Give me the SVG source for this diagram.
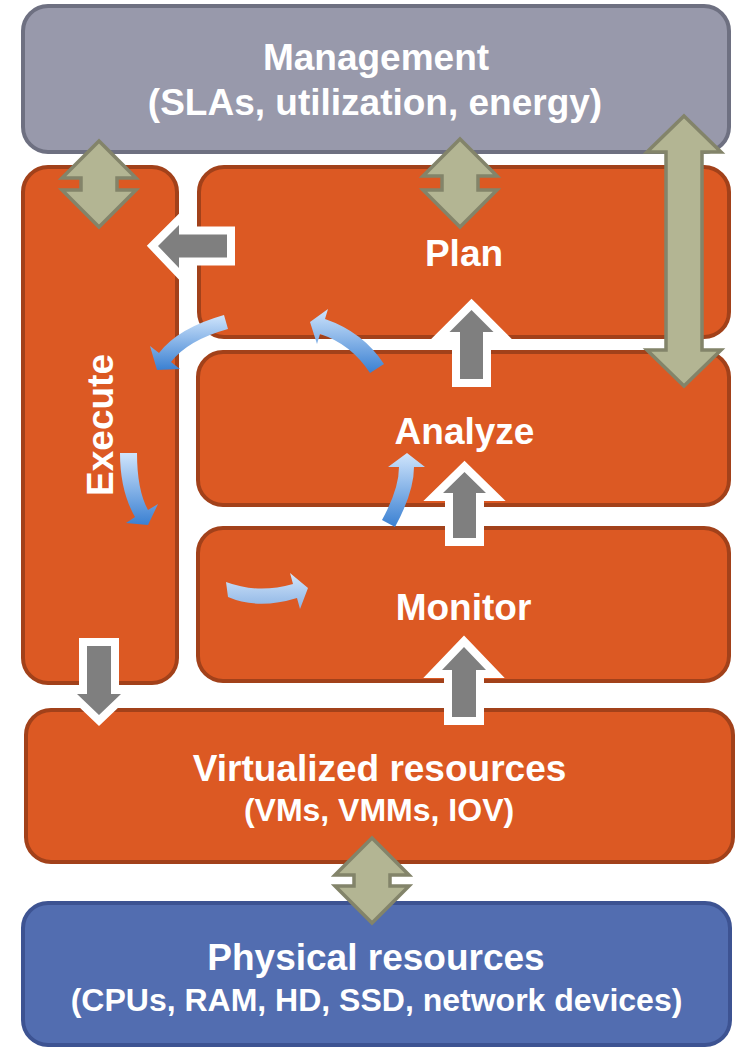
<svg xmlns="http://www.w3.org/2000/svg" width="736" height="1047" viewBox="0 0 736 1047">
  <style>
    .lbl { font-family: "Liberation Sans", Arial, sans-serif; font-weight: bold; fill: #ffffff; text-anchor: middle; }
    .big { font-size: 37px; }
    .sub { font-size: 32px; }
    .orange { fill: #dc5923; stroke: #a2411a; stroke-width: 4; }
    .mgmt { fill: #9899ab; stroke: #6e7081; stroke-width: 4; }
    .phys { fill: #526db0; stroke: #3d5392; stroke-width: 4; }
    .dbl { fill: #b3b593; stroke: #83846a; stroke-width: 3.5; stroke-linejoin: miter; }
    .blk { fill: #7f7f7f; stroke: #ffffff; stroke-width: 16; stroke-linejoin: miter; paint-order: stroke; }
  </style>
  <defs>
    <linearGradient id="blueV" x1="0" y1="0" x2="0" y2="1">
      <stop offset="0" stop-color="#d0e5fc"/>
      <stop offset="1" stop-color="#3a80d2"/>
    </linearGradient>
    <linearGradient id="blueSoft" x1="0" y1="0" x2="0" y2="1">
      <stop offset="0" stop-color="#d3e7fb"/>
      <stop offset="1" stop-color="#8cb3e4"/>
    </linearGradient>
  </defs>

  <rect width="736" height="1047" fill="#ffffff"/>

  <g id="nodes">
    <g id="management">
      <rect class="mgmt" x="23" y="6" width="706" height="146" rx="25"/>
      <text class="lbl big" x="376" y="70">Management</text>
      <text class="lbl big" x="375" y="115">(SLAs, utilization, energy)</text>
    </g>
    <g id="execute">
      <rect class="orange" x="23" y="167" width="154" height="516" rx="25"/>
      <text class="lbl big" transform="translate(113 425) rotate(-90)">Execute</text>
    </g>
    <g id="plan">
      <rect class="orange" x="199" y="167" width="530" height="170" rx="25"/>
      <text class="lbl big" x="464" y="266">Plan</text>
    </g>
    <g id="analyze">
      <rect class="orange" x="198" y="352" width="531" height="153" rx="25"/>
      <text class="lbl big" x="464.5" y="444">Analyze</text>
    </g>
    <g id="monitor">
      <rect class="orange" x="198" y="528" width="531" height="153" rx="25"/>
      <text class="lbl big" x="463.5" y="620">Monitor</text>
    </g>
    <g id="virtualized">
      <rect class="orange" x="26" y="710" width="707" height="152" rx="25"/>
      <text class="lbl big" x="379.5" y="781">Virtualized resources</text>
      <text class="lbl sub" x="379" y="821">(VMs, VMMs, IOV)</text>
    </g>
    <g id="physical">
      <rect class="phys" x="23" y="903" width="707" height="142" rx="25"/>
      <text class="lbl big" x="376" y="970">Physical resources</text>
      <text class="lbl sub" x="376.5" y="1011">(CPUs, RAM, HD, SSD, network devices)</text>
    </g>
  </g>

  <g id="connectors">
    <!-- two-way links to management and hardware -->
    <polygon class="dbl" points="99,141 136,178 117,178 117,190 136,190 99,227 62,190 81,190 81,178 62,178"/>
    <polygon class="dbl" points="460,139 497,176 478,176 478,190 497,190 460,227 423,190 442,190 442,176 423,176"/>
    <polygon class="dbl" points="684,116 721,152 702,152 702,350 721,350 684,386 647,350 666,350 666,152 647,152"/>
    <polygon class="dbl" points="372,838 409,875 390,875 390,886 409,886 372,923 335,886 354,886 354,875 335,875"/>

    <!-- flow between the loop stages -->
    <polygon class="blk" points="158,246 179,225 179,234.5 227,234.5 227,257.5 179,257.5 179,268"/>
    <polygon class="blk" points="471.5,310 493.5,332 483,332 483,379 460,379 460,332 449.5,332"/>
    <polygon class="blk" points="464.5,472 486,493 476,493 476,538 453,538 453,493 443,493"/>
    <polygon class="blk" points="464,647 486,670 476,670 476,717 452,717 452,670 442,670"/>
    <polygon class="blk" points="99,715 121,694 111,694 111,646 87,646 87,694 77,694"/>

    <!-- curved cycle arrows -->
    <path fill="url(#blueV)" d="M224,315 Q178,328 159,353 L150,346 L157,370 L180,369 L171,362 Q188,340 228,329 Z"/>
    <path fill="url(#blueV)" d="M384,364 Q363,332 325,319 L328,309 L310,322 L317,344 L320,334 Q351,344 370,373 Z"/>
    <path fill="url(#blueV)" d="M120,453 Q120,491 135,517 L126,523 L148,525 L158,504 L148,510 Q137,490 137,453 Z"/>
    <path fill="url(#blueSoft)" d="M226,582 Q258,594 293,584 L290,573 L308,588 L300,609 L297,598 Q258,610 228,597 Z"/>
    <path fill="url(#blueV)" d="M382,520 Q399,489 399,467 L388,467 L407,453 L425,467 L414,467 Q414,492 395,527 Z"/>
  </g>
</svg>
